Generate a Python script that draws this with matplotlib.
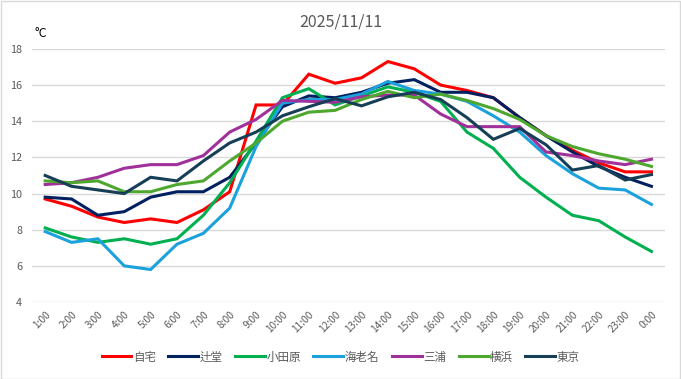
import matplotlib
matplotlib.use("Agg")
import matplotlib.pyplot as plt

plt.rcParams['font.family'] = ['Noto Sans CJK JP', 'DejaVu Sans']

hours = ["1:00","2:00","3:00","4:00","5:00","6:00","7:00","8:00","9:00","10:00","11:00","12:00",
         "13:00","14:00","15:00","16:00","17:00","18:00","19:00","20:00","21:00","22:00","23:00","0:00"]

jitaku   = [9.7, 9.3, 8.7, 8.4, 8.6, 8.4, 9.1, 10.1, 14.9, 14.9, 16.6, 16.1, 16.4, 17.3, 16.9, 16.0, 15.7, 15.3, 14.2, 13.2, 12.4, 11.7, 11.2, 11.2]
tsujido  = [9.8, 9.7, 8.8, 9.0, 9.8, 10.1, 10.1, 10.9, 12.8, 14.8, 15.4, 15.3, 15.6, 16.1, 16.3, 15.6, 15.6, 15.3, 14.2, 13.2, 12.3, 11.5, 10.9, 10.4]
odawara  = [8.1, 7.6, 7.3, 7.5, 7.2, 7.5, 8.8, 10.6, 12.9, 15.3, 15.8, 14.9, 15.4, 15.9, 15.6, 15.1, 13.4, 12.5, 10.9, 9.8, 8.8, 8.5, 7.6, 6.8]
ebina    = [7.9, 7.3, 7.5, 6.0, 5.8, 7.2, 7.8, 9.2, 12.6, 15.0, 15.2, 15.2, 15.5, 16.2, 15.7, 15.5, 15.1, 14.3, 13.4, 12.1, 11.1, 10.3, 10.2, 9.4]
miura    = [10.5, 10.6, 10.9, 11.4, 11.6, 11.6, 12.1, 13.4, 14.1, 15.15, 15.1, 15.05, 15.35, 15.45, 15.45, 14.4, 13.7, 13.7, 13.7, 12.3, 12.1, 11.8, 11.6, 11.9]
yokohama = [10.7, 10.6, 10.7, 10.1, 10.1, 10.5, 10.7, 11.8, 12.8, 14.0, 14.5, 14.6, 15.2, 15.65, 15.3, 15.5, 15.15, 14.7, 14.1, 13.2, 12.6, 12.2, 11.9, 11.5]
tokyo    = [11.0, 10.4, 10.2, 10.0, 10.9, 10.7, 11.8, 12.8, 13.4, 14.3, 14.8, 15.25, 14.85, 15.35, 15.6, 15.2, 14.2, 13.0, 13.6, 12.7, 11.3, 11.55, 10.75, 11.05]

names  = ["自宅", "辻堂", "小田原", "海老名", "三浦", "横浜", "東京"]
series = [jitaku, tsujido, odawara, ebina, miura, yokohama, tokyo]
colors = ["#FF0000", "#002060", "#00B050", "#1BA1DC", "#A0309A", "#4EA72E", "#163E56"]

fig = plt.figure(figsize=(6.81, 3.79), dpi=100)
ax = fig.add_axes([0.047, 0.203, 0.929, 0.668])

x = list(range(len(hours)))
for name, vals, c in zip(names, series, colors):
    ax.plot(x, vals, color=c, lw=2.2, label=name, solid_joinstyle='miter')

ax.set_xlim(-0.5, len(hours) - 0.5)
ax.set_ylim(4, 18)
ax.set_yticks(range(4, 19, 2))
ax.set_xticks(x)
ax.set_xticklabels(hours, rotation=45, ha='right', rotation_mode='anchor', fontsize=7.3, color='#595959')
for lab in ax.get_yticklabels():
    lab.set_fontsize(7.8)
    lab.set_color('#595959')
ax.tick_params(axis='both', length=0, pad=7)
ax.tick_params(axis='x', pad=5)
ax.grid(axis='y', color='#D9D9D9', lw=1)
ax.set_axisbelow(True)
for s in ax.spines.values():
    s.set_visible(False)

fig.text(0.5, 0.942, "2025/11/11", ha='center', va='center', fontsize=11.5, color='#595959')
fig.text(0.05, 0.912, "°C", ha='left', va='center', fontsize=9, color='black')

leg = fig.legend(loc='center', bbox_to_anchor=(0.5, 0.058), ncol=7, frameon=False,
                 fontsize=8.3, handlelength=2.6, columnspacing=1.1, handletextpad=0.1)
for t in leg.get_texts():
    t.set_color('#595959')

fig.patches.append(plt.Rectangle((0.001, 0.001), 0.997, 0.997, transform=fig.transFigure,
                                 fill=False, edgecolor='#D9D9D9', lw=1))

fig.savefig("out.png", dpi=100)
